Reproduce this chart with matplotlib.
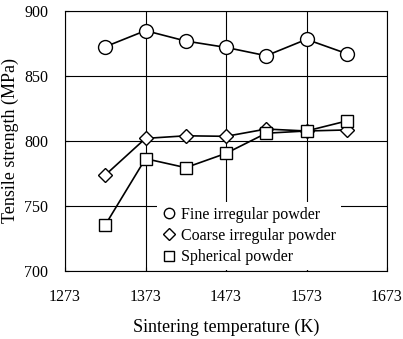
import matplotlib
matplotlib.use('Agg')
import matplotlib.pyplot as plt

temps = [1323, 1373, 1423, 1473, 1523, 1573, 1623]
fine = [872.5, 884.9, 876.9, 872.0, 865.6, 878.2, 867.2]
coarse = [773.8, 802.0, 804.0, 803.6, 809.2, 807.7, 808.5]
spherical = [735.4, 786.4, 779.5, 790.5, 806.0, 807.7, 815.4]

x_ticks = [1273, 1373, 1473, 1573, 1673]
y_ticks = [700, 750, 800, 850, 900]

plt.rcParams['font.family'] = ['Liberation Serif', 'DejaVu Serif']

fig = plt.figure(figsize=(4.03, 3.39), dpi=100)
ax = fig.add_axes([65/403, 1-271/339, 322/403, 260/339])

style = dict(color='black', lw=1.2, mfc='white', mec='black', mew=1.0)
ax.plot(temps, fine, marker='o', ms=10, label='Fine irregular powder', **style)
ax.plot(temps, coarse, marker='D', ms=7.5, label='Coarse irregular powder', **style)
ax.plot(temps, spherical, marker='s', ms=9, label='Spherical powder', **style)

ax.set_xlim(1273, 1673)
ax.set_ylim(700, 900)
ax.set_xticks(x_ticks)
ax.set_yticks(y_ticks)
ax.grid(True, color='black', lw=0.8)
ax.set_axisbelow(True)
for s in ax.spines.values():
    s.set_linewidth(0.8)
ax.tick_params(direction='in', length=3, labelsize=11.5)
ax.tick_params(axis='x', pad=13)
ax.tick_params(axis='y', pad=12)

ax.set_xlabel('Sintering temperature (K)', fontsize=13, labelpad=10)
ax.set_ylabel('Tensile strength (MPa)', fontsize=13, labelpad=4)

# legend box is white and sits under the spines, hiding the grid behind it
leg = ax.legend(loc='lower left', bbox_to_anchor=(0.26, -0.027), frameon=True,
                fontsize=11.5, handlelength=0.9, handletextpad=0.35,
                labelspacing=0.33, borderpad=0.3, fancybox=False)
leg.get_frame().set_edgecolor('none')
leg.get_frame().set_facecolor('white')
leg.get_frame().set_alpha(1)
leg.set_zorder(2.4)
for h in leg.legend_handles:
    h.set_linestyle('none')
    h.set_markersize(h.get_markersize() * 0.75)

fig.savefig('out.png', dpi=100)
